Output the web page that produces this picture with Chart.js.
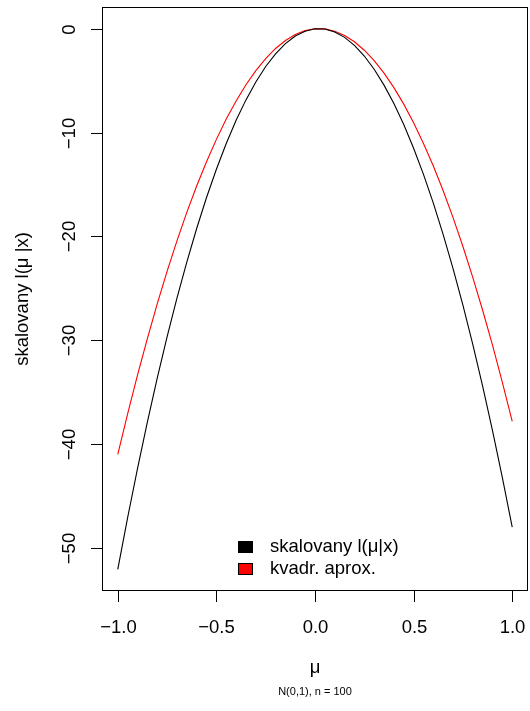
<!DOCTYPE html>
<html lang="cs">
<head>
<meta charset="utf-8">
<title>skalovany l(μ|x)</title>
<script src="https://cdn.jsdelivr.net/npm/chart.js@4.4.1/dist/chart.umd.min.js"></script>
<style>
  html, body { margin: 0; padding: 0; background: #fff; }
  canvas { display: block; }
</style>
</head>
<body>
<canvas id="llChart" width="530" height="711"></canvas>
<script>
// --- DATA ---
const mu = [-1.00, -0.95, -0.90, -0.85, -0.80, -0.75, -0.70, -0.65, -0.60, -0.55,
            -0.50, -0.45, -0.40, -0.35, -0.30, -0.25, -0.20, -0.15, -0.10, -0.05,
             0.00,  0.05,  0.10,  0.15,  0.20,  0.25,  0.30,  0.35,  0.40,  0.45,
             0.50,  0.55,  0.60,  0.65,  0.70,  0.75,  0.80,  0.85,  0.90,  0.95, 1.00];

// skalovana verohodnost l(mu|x) - l(mu^|x)
const skalovany = [-52.05, -47.07, -42.35, -37.87, -33.64, -29.67, -25.94, -22.47, -19.24, -16.26,
                   -13.54, -11.06, -8.83, -6.86, -5.13, -3.65, -2.43, -1.45, -0.72, -0.25,
                   -0.02, -0.04, -0.32, -0.84, -1.61, -2.64, -3.91, -5.44, -7.21, -9.23,
                   -11.51, -14.03, -16.80, -19.83, -23.10, -26.62, -30.40, -34.42, -38.69, -43.22, -47.99];

// kvadraticka aproximace
const kvadr = [-40.99, -37.08, -33.35, -29.83, -26.50, -23.37, -20.43, -17.69, -15.15, -12.81,
               -10.66, -8.71, -6.96, -5.40, -4.04, -2.88, -1.91, -1.14, -0.57, -0.19,
               -0.02, -0.03, -0.25, -0.66, -1.27, -2.08, -3.08, -4.28, -5.68, -7.27,
               -9.06, -11.05, -13.23, -15.61, -18.19, -20.97, -23.94, -27.11, -30.47, -34.04, -37.80];

const seriesNames = ['skalovany l(μ|x)', 'kvadr. aprox.'];
const seriesColors = ['#000000', '#ff0000'];

const xTicks = [-1.0, -0.5, 0.0, 0.5, 1.0];
const yTicks = [0, -10, -20, -30, -40, -50];
const xTickLabels = ['\u22121.0', '\u22120.5', '0.0', '0.5', '1.0'];
const yTickLabels = ['0', '\u221210', '\u221220', '\u221230', '\u221240', '\u221250'];

const FONT = '"Liberation Sans", Arial, Helvetica, sans-serif';
const MAIN = '18.5px ' + FONT;

// --- OSY, POPISKY A LEGENDA VE STYLU R ---
const rStyle = {
    id: 'rStyle',
    afterDraw(chart) {
        const { ctx, chartArea: a, scales: { x, y } } = chart;
        const cx = (a.left + a.right) / 2;
        const cy = (a.top + a.bottom) / 2;

        ctx.save();
        ctx.strokeStyle = '#000';
        ctx.fillStyle = '#000';
        ctx.lineWidth = 1;

        // ramecek
        ctx.strokeRect(a.left + 0.5, a.top + 0.5, a.right - a.left - 1, a.bottom - a.top - 1);

        // osa x
        ctx.font = MAIN;
        ctx.textAlign = 'center';
        ctx.textBaseline = 'alphabetic';
        xTicks.forEach((v, i) => {
            const px = Math.round(x.getPixelForValue(v)) + 0.5;
            ctx.beginPath();
            ctx.moveTo(px, a.bottom);
            ctx.lineTo(px, a.bottom + 11);
            ctx.stroke();
            ctx.fillText(xTickLabels[i], px, a.bottom + 42);
        });

        // osa y (popisky otocene)
        yTicks.forEach((v, i) => {
            const py = Math.round(y.getPixelForValue(v)) + 0.5;
            ctx.beginPath();
            ctx.moveTo(a.left - 11, py);
            ctx.lineTo(a.left, py);
            ctx.stroke();
            ctx.save();
            ctx.translate(a.left - 27, py);
            ctx.rotate(-Math.PI / 2);
            ctx.fillText(yTickLabels[i], 0, 0);
            ctx.restore();
        });

        // nazvy os
        ctx.fillText('μ', cx, a.bottom + 82);
        ctx.save();
        ctx.translate(a.left - 74, cy);
        ctx.rotate(-Math.PI / 2);
        ctx.fillText('skalovany l(μ |x)', 0, 0);
        ctx.restore();

        ctx.font = '11px ' + FONT;
        ctx.fillText('N(0,1), n = 100', cx, a.bottom + 104);

        // legenda dole uprostred
        ctx.font = MAIN;
        ctx.textAlign = 'left';
        ctx.textBaseline = 'middle';
        chart.data.datasets.forEach((ds, i) => {
            const rowY = a.bottom - 44 + i * 22;
            ctx.fillStyle = ds.borderColor;
            ctx.fillRect(a.left + 136, rowY - 6, 15, 12);
            ctx.strokeStyle = '#000';
            ctx.strokeRect(a.left + 136.5, rowY - 5.5, 14, 11);
            ctx.fillStyle = '#000';
            ctx.fillText(ds.label, a.left + 168, rowY);
        });

        ctx.restore();
    }
};

const toPoints = (ys) => mu.map((m, i) => ({ x: m, y: ys[i] }));

new Chart(document.getElementById('llChart').getContext('2d'), {
    type: 'line',
    data: {
        datasets: [
            { label: seriesNames[0], data: toPoints(skalovany), borderColor: seriesColors[0] },
            { label: seriesNames[1], data: toPoints(kvadr), borderColor: seriesColors[1] }
        ]
    },
    options: {
        responsive: false,
        devicePixelRatio: 1,
        animation: false,
        layout: { padding: { left: 102, top: 7, right: 2, bottom: 120 } },
        elements: {
            line: { borderWidth: 1.1, tension: 0, fill: false },
            point: { radius: 0, hoverRadius: 0 }
        },
        plugins: {
            legend: { display: false },
            tooltip: { enabled: false }
        },
        scales: {
            x: { type: 'linear', min: -1.08, max: 1.08, display: false },
            y: { type: 'linear', min: -54.13, max: 2.08, display: false }
        }
    },
    plugins: [rStyle]
});
</script>
</body>
</html>
